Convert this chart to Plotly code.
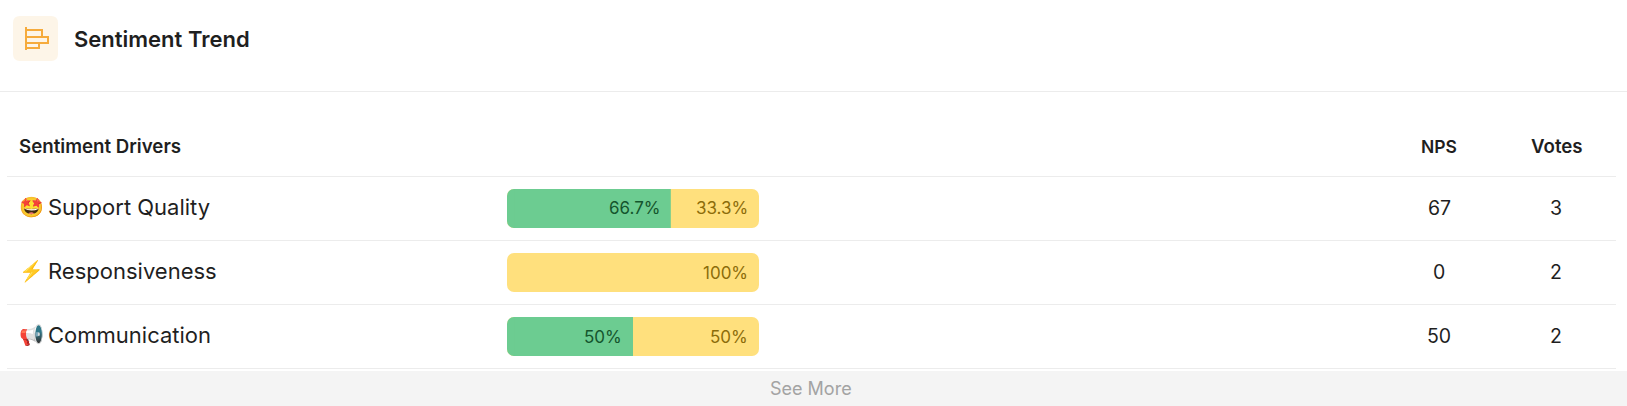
"""Sentiment Trend card: driver table with stacked share bars."""

import plotly.graph_objects as go

W, H = 1627, 406

DRIVERS = ["Support Quality", "Responsiveness", "Communication"]
EMOJI = ["🤩", "⚡", "📢"]
# segment widths as drawn in the picture (the first one is a bit short of its 66.7% label)
POSITIVE = [65, None, 50]
NEUTRAL = [35, 100, 50]
POSITIVE_LABELS = ["66.7%", "", "50%"]
NEUTRAL_LABELS = ["33.3%", "100%", "50%"]
NPS = [67, 0, 50]
VOTES = [3, 2, 2]
LEFT_CAP = [6, None, 6]  # short rounded piece that gives the green segment its left corners
BODY_START = 3

FONT = "Inter, Lato, sans-serif"
GREEN, YELLOW = "#6ccc91", "#ffe07d"
GREEN_TEXT, YELLOW_TEXT = "#14552d", "#8c6c0a"
INK = "#1f1f1f"
RULE = "#ececec"
ICON = "#f6ab3c"
RADIUS = 7


def px_x(x):
    return x / W


def px_y(y):
    return 1 - y / H


def text(x, y, s, size=20, color=INK, anchor="left", weight=400):
    return dict(x=px_x(x), y=px_y(y), xref="paper", yref="paper", text=s, showarrow=False,
                xanchor=anchor, yanchor="middle",
                font=dict(family=FONT, size=size, color=color, weight=weight))


def line(x0, y0, x1, y1, color=RULE, width=1):
    return dict(type="line", xref="paper", yref="paper", x0=px_x(x0), x1=px_x(x1),
                y0=px_y(y0), y1=px_y(y1), line=dict(color=color, width=width))


def rounded_box(x0, y0, x1, y1, r):
    return (f"M{px_x(x0 + r)},{px_y(y0)} L{px_x(x1 - r)},{px_y(y0)} Q{px_x(x1)},{px_y(y0)} {px_x(x1)},{px_y(y0 + r)} "
            f"L{px_x(x1)},{px_y(y1 - r)} Q{px_x(x1)},{px_y(y1)} {px_x(x1 - r)},{px_y(y1)} "
            f"L{px_x(x0 + r)},{px_y(y1)} Q{px_x(x0)},{px_y(y1)} {px_x(x0)},{px_y(y1 - r)} "
            f"L{px_x(x0)},{px_y(y0 + r)} Q{px_x(x0)},{px_y(y0)} {px_x(x0 + r)},{px_y(y0)} Z")


totals = [(p or 0) + n for p, n in zip(POSITIVE, NEUTRAL)]
body = [None if p is None else p - BODY_START for p in POSITIVE]

# explicit base makes plotly round both ends, so the track and cap stay rounded and the
# green body on top keeps a square edge at the split
fig = go.Figure()
fig.add_bar(y=DRIVERS, x=totals, base=[0, 0, 0], orientation="h", width=0.61,
            marker=dict(color=YELLOW, line_width=0, cornerradius=RADIUS))
fig.add_bar(y=DRIVERS, x=LEFT_CAP, base=[0, 0, 0], orientation="h", width=0.61,
            marker=dict(color=GREEN, line_width=0, cornerradius=RADIUS))
fig.add_bar(y=DRIVERS, x=body, base=[BODY_START] * 3, orientation="h", width=0.61,
            marker=dict(color=GREEN, line_width=0, cornerradius=0))

shapes = [dict(line(0, 91.5, W, 91.5), layer="below")]
for y in [176.5, 240.5, 304.5, 368.5]:
    shapes.append(dict(line(7, y, 1616, y), layer="below"))
# footer band and title icon
shapes.append(dict(type="rect", xref="paper", yref="paper", x0=0, x1=1, y0=0, y1=px_y(371),
                   fillcolor="#f4f4f4", line_width=0, layer="below"))
shapes.append(dict(type="path", xref="paper", yref="paper", layer="below", fillcolor="#fdf5e8", line_width=0,
                   path=rounded_box(13, 16, 58, 61, 7)))
for x0, y0, x1, y1 in [(26, 30, 42, 37), (26, 37, 48, 43), (26, 43, 39, 48)]:
    shapes.append(dict(type="rect", xref="paper", yref="paper", x0=px_x(x0), x1=px_x(x1),
                       y0=px_y(y0), y1=px_y(y1), line=dict(color=ICON, width=2)))
shapes.append(line(26, 27, 26, 50, color=ICON, width=2))

annotations = [
    text(72, 38.5, "Sentiment Trend", size=22, weight=600),
    text(17, 146, "Sentiment Drivers", size=18.7, weight=600),
    text(1439, 146, "NPS", size=17.5, anchor="center", weight=600),
    text(1556.5, 146, "Votes", size=18.7, anchor="center", weight=600),
    text(811, 388.5, "See More", size=18, color="#a3a3a3", anchor="center"),
]
for i, name in enumerate(DRIVERS):
    row_y = 207 + 64 * i
    annotations.append(text(17, row_y, EMOJI[i], size=20))
    annotations.append(text(46, row_y, name, size=22))
    annotations.append(text(1439, row_y + 0.5, str(NPS[i]), size=19.5, anchor="center"))
    annotations.append(text(1556, row_y + 0.5, str(VOTES[i]), size=19.5, anchor="center"))
    if POSITIVE_LABELS[i]:
        annotations.append(dict(x=POSITIVE[i], y=name, xref="x", yref="y", text=POSITIVE_LABELS[i],
                                showarrow=False, xanchor="right", xshift=-9,
                                font=dict(family=FONT, size=17, color=GREEN_TEXT)))
    annotations.append(dict(x=totals[i], y=name, xref="x", yref="y", text=NEUTRAL_LABELS[i],
                            showarrow=False, xanchor="right", xshift=-9,
                            font=dict(family=FONT, size=17, color=YELLOW_TEXT)))

fig.update_layout(
    width=W, height=H, margin=dict(l=0, r=0, t=0, b=0), barmode="overlay",
    paper_bgcolor="white", plot_bgcolor="rgba(0,0,0,0)", showlegend=False,
    shapes=shapes, annotations=annotations,
    xaxis=dict(domain=[px_x(507), px_x(759)], range=[0, 100], visible=False, fixedrange=True),
    yaxis=dict(domain=[px_y(368.5), px_y(176.5)], autorange="reversed", visible=False, fixedrange=True,
               categoryorder="array", categoryarray=DRIVERS),
)
fig.write_html("out.html", config={"displayModeBar": False},
               post_script="document.body.style.margin='0';")
